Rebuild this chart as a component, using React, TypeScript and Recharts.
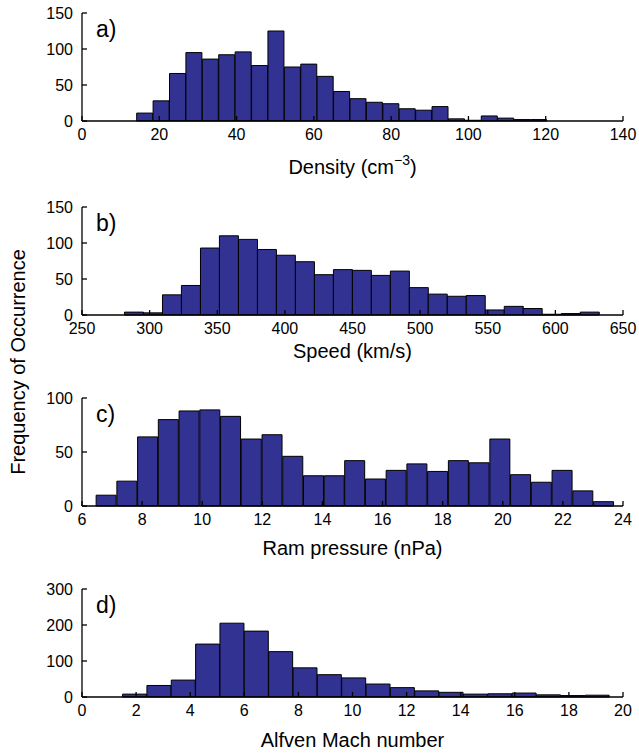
import React from 'react';
import { BarChart, Bar, XAxis, YAxis } from 'recharts';

// bin centres and counts
const densityBins = [16.27, 20.52, 24.77, 29.01, 33.26, 37.5, 41.75, 46.0, 50.24, 54.49, 58.73, 62.98, 67.23, 71.47, 75.72, 79.97, 84.21, 88.46, 92.7, 96.95, 101.2, 105.44, 109.69, 113.94, 118.18];
const densityCounts = [11, 28, 66, 95, 86, 92, 96, 77, 125, 75, 79, 62, 41, 31, 26, 24, 17, 15, 20, 3, 1, 7, 4, 2, 2];

const speedBins = [288.4, 302.5, 316.5, 330.5, 344.6, 358.6, 372.7, 386.7, 400.7, 414.8, 428.8, 442.9, 456.9, 470.9, 485.0, 499.0, 513.0, 527.1, 541.1, 555.2, 569.2, 583.2, 597.3, 611.3, 625.4];
const speedCounts = [4, 3, 28, 41, 93, 110, 105, 91, 83, 74, 56, 63, 62, 55, 61, 38, 29, 26, 27, 7, 12, 9, 1, 2, 4];

const pressureBins = [6.81, 7.5, 8.19, 8.88, 9.57, 10.26, 10.95, 11.64, 12.33, 13.02, 13.71, 14.4, 15.08, 15.77, 16.46, 17.15, 17.84, 18.53, 19.22, 19.91, 20.6, 21.29, 21.98, 22.67, 23.36];
const pressureCounts = [10, 23, 64, 80, 88, 89, 83, 62, 66, 46, 28, 28, 42, 25, 33, 39, 32, 42, 40, 62, 29, 22, 33, 14, 4];

const machBins = [1.95, 2.85, 3.75, 4.65, 5.55, 6.45, 7.35, 8.25, 9.15, 10.05, 10.95, 11.85, 12.75, 13.65, 14.55, 15.45, 16.35, 17.25, 18.15, 19.05];
const machCounts = [8, 32, 47, 147, 205, 183, 126, 81, 62, 53, 36, 26, 17, 13, 8, 9, 11, 6, 4, 5];

const densityTicks = [0, 20, 40, 60, 80, 100, 120, 140];
const speedTicks = [250, 300, 350, 400, 450, 500, 550, 600, 650];
const pressureTicks = [6, 8, 10, 12, 14, 16, 18, 20, 22, 24];
const machTicks = [0, 2, 4, 6, 8, 10, 12, 14, 16, 18, 20];

const FONT = '"Liberation Sans", Arial, Helvetica, sans-serif';
const BAR_FILL = '#323292';

const XTitle = ({ viewBox, text, sup, dy }: any) => {
  const { x, y, width } = viewBox;
  return (
    <text x={x + width / 2} y={y + dy} textAnchor="middle" fontSize={20} fontFamily={FONT} fill="#000">
      {text}
      {sup && <tspan dy={-9} fontSize={14}>{sup}</tspan>}
      {sup && <tspan dy={9} fontSize={20}>)</tspan>}
    </text>
  );
};

const PanelTag = ({ viewBox, text }: any) => {
  const { x, y, width } = viewBox;
  return (
    <text x={x + width + 14} y={y + 24} fontSize={23} fontFamily={FONT} fill="#000">
      {text}
    </text>
  );
};

const NoTick = () => <g />;

interface PanelProps {
  top: number;
  height: number;
  marginTop: number;
  bins: number[];
  counts: number[];
  xTicks: number[];
  yTicks: number[];
  title: string;
  sup?: string;
  titleDy: number;
  tag: string;
}

const Panel = ({ top, height, marginTop, bins, counts, xTicks, yTicks, title, sup, titleDy, tag }: PanelProps) => {
  const data = bins.map((b, i) => ({ x: b, n: counts[i] }));
  const xDomain = [xTicks[0], xTicks[xTicks.length - 1]];
  const yDomain = [yTicks[0], yTicks[yTicks.length - 1]];
  const axisStyle = { stroke: '#000', strokeWidth: 1.3 };
  const tickStyle = { fill: '#000', fontSize: 16, fontFamily: FONT };
  return (
    <div style={{ position: 'absolute', left: 0, top }}>
      <BarChart
        width={639}
        height={height}
        data={data}
        margin={{ top: marginTop, right: 16, left: 0, bottom: 0 }}
        barCategoryGap={0}
        barGap={0}
      >
        <XAxis
          dataKey="x"
          type="number"
          domain={xDomain}
          ticks={xTicks}
          allowDataOverflow
          height={height - marginTop - 108}
          tickSize={-5}
          tickMargin={13}
          axisLine={axisStyle}
          tickLine={axisStyle}
          tick={tickStyle}
          label={<XTitle text={title} sup={sup} dy={titleDy} />}
        />
        <XAxis
          xAxisId="top"
          dataKey="x"
          type="number"
          orientation="top"
          mirror
          height={0}
          domain={xDomain}
          ticks={xTicks}
          allowDataOverflow
          tickSize={5}
          axisLine={axisStyle}
          tickLine={axisStyle}
          tick={NoTick}
        />
        <YAxis
          type="number"
          domain={yDomain}
          ticks={yTicks}
          width={82}
          tickSize={-5}
          tickMargin={14}
          axisLine={axisStyle}
          tickLine={axisStyle}
          tick={tickStyle}
          label={<PanelTag text={tag} />}
        />
        <YAxis
          yAxisId="r"
          type="number"
          orientation="right"
          mirror
          width={0}
          domain={yDomain}
          ticks={yTicks}
          tickSize={5}
          axisLine={axisStyle}
          tickLine={axisStyle}
          tick={NoTick}
        />
        <Bar dataKey="n" fill={BAR_FILL} stroke="#000" strokeWidth={1} isAnimationActive={false} />
      </BarChart>
    </div>
  );
};

export default function App() {
  return (
    <div style={{ position: 'absolute', left: 0, top: 0, width: 639, height: 753, background: '#fff', overflow: 'hidden' }}>
      <Panel top={0} height={191} marginTop={13} bins={densityBins} counts={densityCounts} xTicks={densityTicks} yTicks={[0, 50, 100, 150]} title="Density (cm" sup="−3" titleDy={53} tag="a)" />
      <Panel top={190} height={186} marginTop={17} bins={speedBins} counts={speedCounts} xTicks={speedTicks} yTicks={[0, 50, 100, 150]} title="Speed (km/s)" titleDy={43} tag="b)" />
      <Panel top={380} height={196} marginTop={18} bins={pressureBins} counts={pressureCounts} xTicks={pressureTicks} yTicks={[0, 50, 100]} title="Ram pressure (nPa)" titleDy={49} tag="c)" />
      <Panel top={575} height={178} marginTop={14} bins={machBins} counts={machCounts} xTicks={machTicks} yTicks={[0, 100, 200, 300]} title="Alfven Mach number" titleDy={50} tag="d)" />
      <svg width={40} height={753} style={{ position: 'absolute', left: 0, top: 0 }}>
        <text transform="translate(25, 362) rotate(-90)" textAnchor="middle" fontSize={20} fontFamily={FONT} fill="#000">
          Frequency of Occurrence
        </text>
      </svg>
    </div>
  );
}
